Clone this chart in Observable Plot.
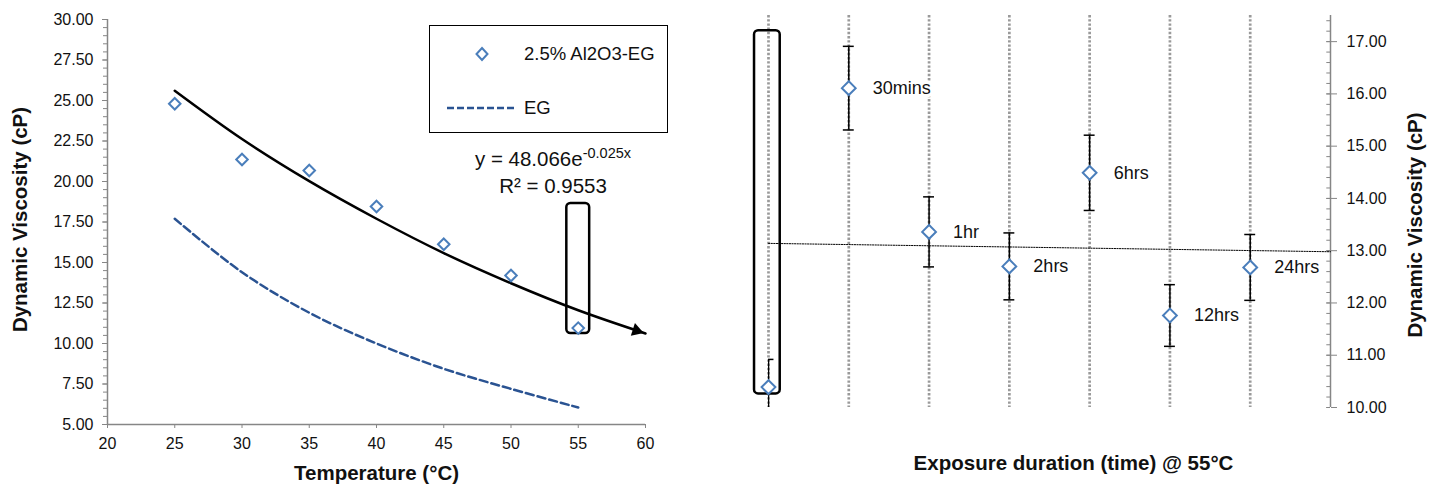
<!DOCTYPE html>
<html>
<head>
<meta charset="utf-8">
<script src="https://cdn.jsdelivr.net/npm/d3@7"></script>
<script src="https://cdn.jsdelivr.net/npm/@observablehq/plot@0.6"></script>
<style>
  body { margin: 0; background: #fff; font-family: "Liberation Sans", Arial, sans-serif; }
  #wrap { position: relative; width: 1437px; height: 487px; overflow: hidden; background: #fff; }
  #left { position: absolute; left: 0; top: 0; }
  #right { position: absolute; left: 700px; top: 0; }
  #legend { position: absolute; left: 429px; top: 25px; width: 237px; height: 106px; border: 1.5px solid #000; background: #fff; }
  #legend svg { position: absolute; left: 0; top: 0; overflow: visible; }
  #equation { position: absolute; left: 453px; top: 147px; width: 200px; text-align: center; font-size: 20.5px; line-height: 23.6px; color: #111; }
  #equation .sup { position: relative; top: -8px; font-size: 14.5px; }
</style>
</head>
<body>
<div id="wrap">
  <div id="left"></div>
  <div id="right"></div>
  <div id="legend">
    <svg width="237" height="106">
      <polygon points="52,22 57.5,28 52,34 46.5,28" fill="#fff" stroke="#4A7EBB" stroke-width="2"></polygon>
      <text x="94" y="28" dy="0.35em" font-size="18.5" fill="#111" font-family="Liberation Sans, Arial, sans-serif">2.5% Al2O3-EG</text>
      <line x1="17" x2="87" y1="82" y2="82" stroke="#2A5392" stroke-width="2.5" stroke-dasharray="7,3"></line>
      <text x="94" y="82" dy="0.35em" font-size="18.5" fill="#111" font-family="Liberation Sans, Arial, sans-serif">EG</text>
    </svg>
  </div>
  <div id="equation">y = 48.066e<span class="sup">-0.025x</span><br>R² = 0.9553</div>
</div>
<script>
// ---------- Left chart data ----------
const tempC = [25, 30, 35, 40, 45, 50, 55];
const alViscosity = [24.80, 21.36, 20.68, 18.46, 16.13, 14.20, 10.95];
const egViscosity = [17.70, 14.40, 11.90, 10.00, 8.44, 7.20, 6.05];
const fitTemp = [25, 30, 35, 40, 45, 50, 55, 60];
const fitViscosity = [25.60, 22.62, 20.02, 17.70, 15.58, 13.72, 12.05, 10.62];
const tempTicks = [20, 25, 30, 35, 40, 45, 50, 55, 60];
const viscTicks = [5, 7.5, 10, 12.5, 15, 17.5, 20, 22.5, 25, 27.5, 30];

// ---------- Right chart data ----------
const exposureLabels = ["", "30mins", "1hr", "2hrs", "6hrs", "12hrs", "24hrs"];
const exposureViscosity = [10.39, 16.11, 13.36, 12.70, 14.49, 11.76, 12.68];
const exposureError = [0.53, 0.80, 0.67, 0.64, 0.72, 0.59, 0.63];
const exposureTrendX = [0, 7];
const exposureTrendY = [13.14, 12.98];
const exposureTicks = [10, 11, 12, 13, 14, 15, 16, 17];

const FONT = "'Liberation Sans', Arial, sans-serif";
const AXIS = "#868686";
const BLUE = "#4A7EBB";
const EG = "#2A5392";
const GRID = "#9a9a9a";
const TXT = "#111";

const left = Plot.plot({
  width: 700, height: 487,
  marginLeft: 107, marginRight: 55, marginTop: 19, marginBottom: 63,
  style: { fontFamily: FONT, fontSize: "16px", color: TXT, background: "transparent", overflow: "visible" },
  x: { domain: [20, 60] },
  y: { domain: [5, 30] },
  marks: [
    Plot.axisY({ ticks: d3.range(0, 51).map(i => 5 + i * 0.5), tickSize: 4, tickFormat: () => "", stroke: AXIS, label: null }),
    Plot.axisY({ ticks: viscTicks, tickSize: 5, tickPadding: 9, tickFormat: d => d.toFixed(2), stroke: AXIS, label: null }),
    Plot.axisX({ ticks: tempTicks, tickSize: 4, tickPadding: 9, stroke: AXIS, label: null }),
    Plot.ruleX([20], { stroke: AXIS, strokeWidth: 1.5 }),
    Plot.ruleY([5], { stroke: AXIS, strokeWidth: 1.5 }),
    Plot.line(egViscosity, { x: (d, i) => tempC[i], y: d => d, curve: "catmull-rom", stroke: EG, strokeWidth: 2.5, strokeDasharray: "8,4" }),
    Plot.line(fitViscosity, { x: (d, i) => fitTemp[i], y: d => d, curve: "catmull-rom", stroke: "black", strokeWidth: 2.5 }),
    Plot.dot([fitViscosity.length - 1], { x: i => fitTemp[i], y: i => fitViscosity[i], symbol: "triangle2", r: 6.3, rotate: 108, fill: "black", dx: -9, dy: -2.9 }),
    Plot.rect([0], { x1: 54.15, x2: 55.85, y1: 10.62, y2: 18.64, rx: 4, stroke: "black", strokeWidth: 2.5, fill: "none" }),
    Plot.dot(alViscosity, { x: (d, i) => tempC[i], y: d => d, symbol: "diamond2", r: 5.2, stroke: BLUE, strokeWidth: 2, fill: "white" }),
    Plot.text(["Temperature (°C)"], { frameAnchor: "bottom", dy: 49, fontWeight: "bold", fontSize: 20.5, textAnchor: "middle", lineAnchor: "middle", fill: TXT }),
    Plot.text(["Dynamic Viscosity (cP)"], { frameAnchor: "left", dx: -87, dy: -2.5, rotate: -90, fontWeight: "bold", fontSize: 20.5, textAnchor: "middle", lineAnchor: "middle", fill: TXT })
  ]
});
document.getElementById("left").appendChild(left);

const idx = exposureLabels.map((_, i) => i);
const capHalf = 0.068;
const right = Plot.plot({
  width: 737, height: 487,
  marginLeft: 68, marginRight: 107, marginTop: 15, marginBottom: 80,
  style: { fontFamily: FONT, fontSize: "16px", color: TXT, background: "transparent", overflow: "visible" },
  x: { domain: [0, 7], axis: null },
  y: { domain: [10, 17.5] },
  marks: [
    Plot.ruleX(idx, { x: d => d, stroke: GRID, strokeWidth: 2.7, strokeDasharray: "2.4,1.8" }),
    Plot.ruleY(d3.range(0, 38).map(i => 10 + i * 0.2), { y: d => d, x1: 7 - 0.046, x2: 7, stroke: AXIS }),
    Plot.ruleY(exposureTicks, { y: d => d, x1: 7 - 0.046, x2: 7, stroke: AXIS }),
    Plot.axisY({ anchor: "right", ticks: exposureTicks, tickSize: 6, tickPadding: 10, tickFormat: d => d.toFixed(2), stroke: AXIS, label: null }),
    Plot.ruleX([7], { stroke: AXIS, strokeWidth: 1.5 }),
    Plot.line(exposureTrendY, { x: (d, i) => exposureTrendX[i], y: d => d, stroke: "black", strokeWidth: 1, strokeDasharray: "1.3,1.3" }),
    Plot.ruleX(idx, { x: d => d, y1: i => exposureViscosity[i] - exposureError[i], y2: i => exposureViscosity[i] + exposureError[i], stroke: "black", strokeWidth: 1.5, clip: true }),
    Plot.ruleY(idx, { y: i => exposureViscosity[i] + exposureError[i], x1: i => i - capHalf, x2: i => i + capHalf, stroke: "black", strokeWidth: 1.5, clip: true }),
    Plot.ruleY(idx, { y: i => exposureViscosity[i] - exposureError[i], x1: i => i - capHalf, x2: i => i + capHalf, stroke: "black", strokeWidth: 1.5, clip: true }),
    Plot.rect([0], { x1: -0.174, x2: 0.146, y1: 10.26, y2: 17.21, rx: 4, stroke: "black", strokeWidth: 2.5, fill: "none" }),
    Plot.dot(idx, { x: d => d, y: i => exposureViscosity[i], symbol: "diamond2", r: 6.2, stroke: BLUE, strokeWidth: 2, fill: "white" }),
    Plot.text(idx, { x: d => d, y: i => exposureViscosity[i], text: i => exposureLabels[i], dx: 24, textAnchor: "start", fontSize: 18, fill: "none", stroke: "white", strokeWidth: 7 }),
    Plot.text(idx, { x: d => d, y: i => exposureViscosity[i], text: i => exposureLabels[i], dx: 24, textAnchor: "start", fontSize: 18, fill: TXT }),
    Plot.text(["Exposure duration (time) @ 55°C"], { frameAnchor: "bottom", dx: 24, dy: 56, fontWeight: "bold", fontSize: 20.5, textAnchor: "middle", lineAnchor: "middle", fill: TXT }),
    Plot.text(["Dynamic Viscosity (cP)"], { frameAnchor: "right", dx: 85, dy: 13.5, rotate: -90, fontWeight: "bold", fontSize: 20.5, textAnchor: "middle", lineAnchor: "middle", fill: TXT })
  ]
});
document.getElementById("right").appendChild(right);
</script>
</body>
</html>
